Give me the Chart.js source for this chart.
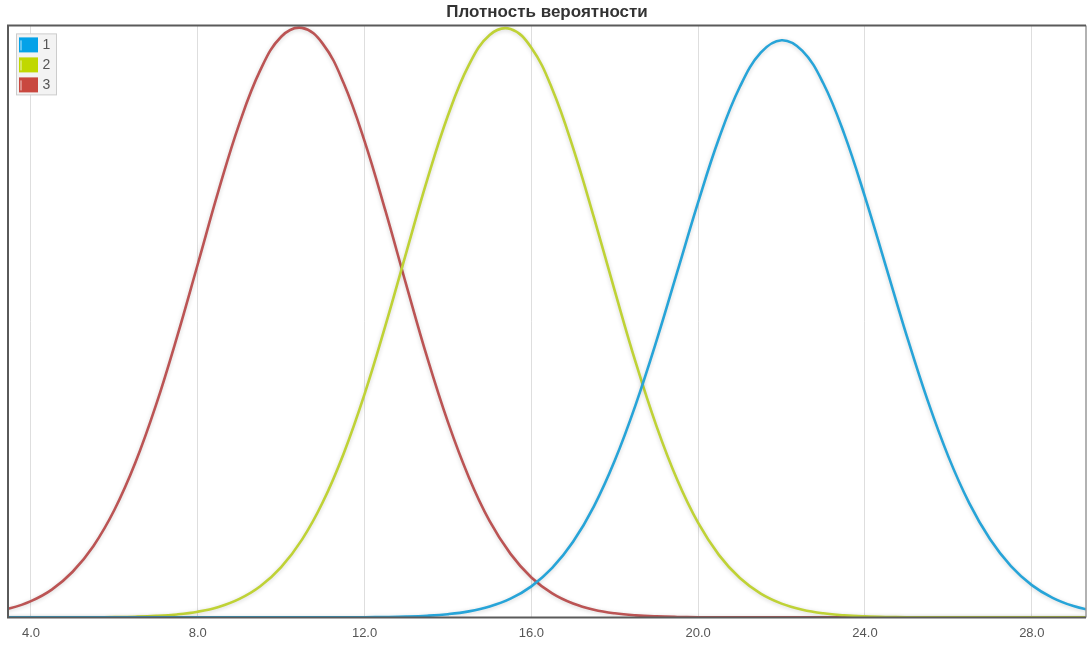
<!DOCTYPE html>
<html>
<head>
<meta charset="utf-8">
<script src="https://cdn.jsdelivr.net/npm/chart.js@4"></script>
<style>
  html, body { margin: 0; padding: 0; background: #ffffff; }
  #wrap { width: 1092px; height: 649px; position: relative; }
</style>
</head>
<body>
<div id="wrap"><canvas id="c" width="1092" height="649"></canvas></div>
<script>
const titleText = 'Плотность вероятности';
const seriesLabels = ['1', '2', '3'];
const tickValues = [4, 8, 12, 16, 20, 24, 28];

const xValues = [3.0, 3.5, 4.0, 4.5, 5.0, 5.5, 6.0, 6.5, 7.0, 7.5, 8.0, 8.5, 9.0, 9.5,
  10.0, 10.5, 11.0, 11.5, 12.0, 12.5, 13.0, 13.5, 14.0, 14.5, 15.0, 15.5, 16.0, 16.5,
  17.0, 17.5, 18.0, 18.5, 19.0, 19.5, 20.0, 20.5, 21.0, 21.5, 22.0, 22.5, 23.0, 23.5,
  24.0, 24.5, 25.0, 25.5, 26.0, 26.5, 27.0, 27.5, 28.0, 28.5, 29.0, 29.5];

const series1 = [0, 0, 0, 0, 0, 0, 0, 0, 0, 0, 0, 0, 0, 0, 0, 0,
  0.00001, 0.00002, 0.00005, 0.00011, 0.00023, 0.00047, 0.00091, 0.0017, 0.00306, 0.00527,
  0.00875, 0.01393, 0.0213, 0.0313, 0.0442, 0.0599, 0.0779, 0.0974, 0.1170, 0.1350,
  0.1495, 0.1591, 0.1626, 0.1596, 0.1505, 0.1363, 0.1185, 0.0990, 0.0794, 0.0612,
  0.0453, 0.0322, 0.0220, 0.01443, 0.00909, 0.0055, 0.0032, 0.00179];

const series2 = [0, 0, 0, 0.00001, 0.00002, 0.00004, 0.00009, 0.0002, 0.00042, 0.00084,
  0.00161, 0.00295, 0.0052, 0.00876, 0.01416, 0.0219, 0.0325, 0.0462, 0.0629, 0.0822,
  0.1028, 0.1232, 0.1414, 0.1556, 0.1641, 0.1658, 0.1605, 0.1489, 0.1323, 0.1127,
  0.0920, 0.0719, 0.0539, 0.0387, 0.0266, 0.01755, 0.01109, 0.00671, 0.00389, 0.00216,
  0.00115, 0.00059, 0.00029, 0.00013, 0.00006, 0.00003, 0.00001, 0, 0, 0, 0, 0, 0, 0];

const series3 = [0.00138, 0.00257, 0.00459, 0.00784, 0.01286, 0.02014, 0.03025, 0.04348,
  0.05987, 0.0789, 0.0995, 0.1203, 0.1392, 0.1542, 0.1636, 0.1661, 0.1616, 0.1505,
  0.1342, 0.1146, 0.0937, 0.0733, 0.0550, 0.0395, 0.0271, 0.0179, 0.01125, 0.00678,
  0.00392, 0.00217, 0.00115, 0.00058, 0.00028, 0.00013, 0.00006, 0.00002, 0.00001,
  0, 0, 0, 0, 0, 0, 0, 0, 0, 0, 0, 0, 0, 0, 0, 0, 0];

const lineColors = ['#27a4d8', '#bfd236', '#bb5454'];
const legendColors = ['#04a2e8', '#c0d800', '#c9483f'];

function toPoints(arr) { return xValues.map((x, i) => ({ x: x, y: arr[i] })); }

const FONT = "'Liberation Sans', Arial, sans-serif";

const shadowPlugin = {
  id: 'lineShadow',
  beforeDatasetDraw(chart) {
    const ctx = chart.ctx;
    ctx.save();
    ctx.shadowColor = 'rgba(0,0,0,0.18)';
    ctx.shadowBlur = 4;
    ctx.shadowOffsetX = 0;
    ctx.shadowOffsetY = 1;
  },
  afterDatasetDraw(chart) { chart.ctx.restore(); }
};

const framePlugin = {
  id: 'frameAndLegend',
  afterDraw(chart) {
    const ctx = chart.ctx;
    const a = chart.chartArea;
    ctx.save();
    ctx.lineWidth = 1.5;
    ctx.strokeStyle = '#999';
    ctx.beginPath();
    ctx.moveTo(a.right, a.top); ctx.lineTo(a.right, a.bottom);
    ctx.stroke();
    ctx.strokeStyle = '#5a5a5a';
    ctx.lineWidth = 2;
    ctx.beginPath();
    ctx.moveTo(a.right, a.top); ctx.lineTo(a.left, a.top); ctx.lineTo(a.left, a.bottom); ctx.lineTo(a.right, a.bottom);
    ctx.stroke();
    const bx = a.left + 8.5, by = a.top + 8.5, bw = 40, bh = 61;
    ctx.fillStyle = '#f3f3f3';
    ctx.fillRect(bx, by, bw, bh);
    ctx.strokeStyle = '#cccccc';
    ctx.lineWidth = 1;
    ctx.strokeRect(bx, by, bw, bh);
    chart.data.datasets.forEach((ds, i) => {
      const y0 = by + 3.5 + i * 20;
      ctx.fillStyle = legendColors[i];
      ctx.fillRect(bx + 2.5, y0, 19, 15);
      ctx.strokeStyle = 'rgba(255,255,255,0.75)';
      ctx.lineWidth = 1;
      ctx.beginPath();
      ctx.moveTo(bx + 4.5, y0 + 3); ctx.lineTo(bx + 4.5, y0 + 13);
      ctx.stroke();
      ctx.fillStyle = '#555';
      ctx.font = '14px ' + FONT;
      ctx.textBaseline = 'middle';
      ctx.textAlign = 'left';
      ctx.fillText(ds.label, bx + 26, y0 + 8);
    });
    ctx.restore();
  }
};

new Chart(document.getElementById('c'), {
  type: 'line',
  data: {
    datasets: [
      { label: seriesLabels[0], data: toPoints(series1), borderColor: lineColors[0] },
      { label: seriesLabels[1], data: toPoints(series2), borderColor: lineColors[1] },
      { label: seriesLabels[2], data: toPoints(series3), borderColor: lineColors[2] }
    ]
  },
  options: {
    responsive: false,
    animation: false,
    devicePixelRatio: 1,
    layout: { padding: { left: 8, right: 6, top: 0, bottom: 0 } },
    elements: {
      point: { radius: 0, hoverRadius: 0 },
      line: { borderWidth: 2.6, tension: 0.4, fill: false }
    },
    datasets: { line: { clip: 0 } },
    plugins: {
      legend: { display: false },
      tooltip: { enabled: false },
      title: {
        display: true,
        text: titleText,
        color: '#333',
        font: { family: FONT, size: 17, weight: 'bold' },
        padding: { top: 2, bottom: 3 }
      }
    },
    scales: {
      x: {
        type: 'linear',
        min: 3.45,
        max: 29.3,
        afterBuildTicks(scale) { scale.ticks = tickValues.map(v => ({ value: v })); },
        ticks: {
          color: '#555',
          font: { family: FONT, size: 13 },
          padding: 8,
          maxRotation: 0,
          callback: v => Number(v).toFixed(1)
        },
        grid: { color: '#dedede', lineWidth: 1, drawTicks: false },
        border: { display: false }
      },
      y: {
        display: false,
        min: 0,
        max: 0.1668
      }
    }
  },
  plugins: [shadowPlugin, framePlugin]
});
</script>
</body>
</html>
